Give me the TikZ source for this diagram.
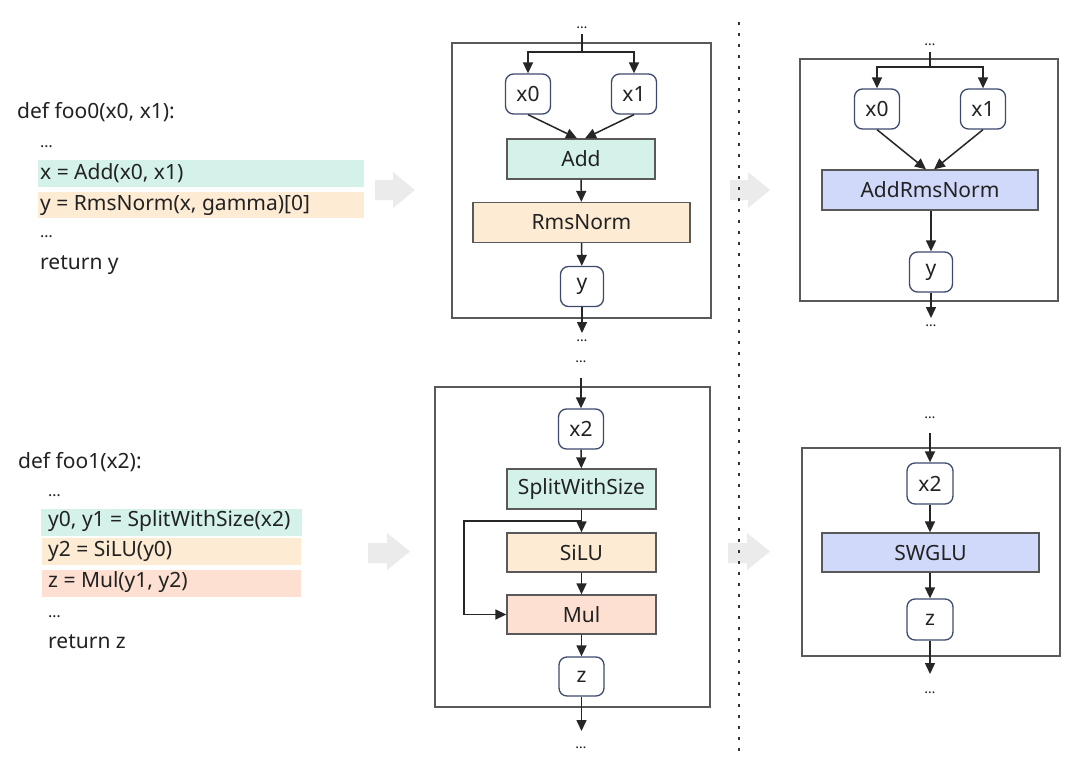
\documentclass[tikz,border=0pt]{standalone}
\usepackage{fontspec}
\setmainfont{Noto Sans}
\usetikzlibrary{arrows.meta}
\definecolor{txt}{HTML}{222222}
\definecolor{cyanf}{HTML}{D4F2EA}
\definecolor{orgf}{HTML}{FDEBD3}
\definecolor{salf}{HTML}{FDE0D2}
\definecolor{lavf}{HTML}{D0D9FA}
\definecolor{navy}{HTML}{3D4A6E}
\definecolor{frm}{HTML}{595959}
\definecolor{garr}{HTML}{EBEBEB}
\tikzset{
  lbl/.style={font=\fontsize{21}{25}\selectfont, text=txt, inner sep=0pt},
  codeline/.style={lbl, anchor=west},
  codedots/.style={font=\fontsize{16}{18}\selectfont, text=txt, inner sep=0pt, anchor=west},
  dotsnode/.style={font=\fontsize{14}{16}\selectfont, text=txt, inner sep=0pt},
  frame/.style={draw=frm, line width=1.4pt, inner sep=0pt},
  opbox/.style={draw=frm, line width=1.3pt, lbl, minimum height=40pt},
  varbox/.style={draw=navy, line width=1.3pt, rounded corners=8pt, fill=white, lbl, minimum width=45pt, minimum height=40pt},
  arr/.style={draw=black!85, line width=1.5pt, -{Triangle[length=11pt,width=10pt]}},
  ln/.style={draw=black!85, line width=1.5pt},
  hl/.style={inner sep=0pt, draw=none},
  blockarr/.style={fill=garr, draw=none},
}
\begin{document}
\begin{tikzpicture}[x=1pt,y=-1pt]
\useasboundingbox (0,0) rectangle (1080,766);
\fill[white] (0,0) rectangle (1080,766);

% ---------- code foo0 ----------
\node[hl, fill=cyanf, minimum width=326pt, minimum height=27pt] (hlA1) at (201,173) {};
\node[hl, fill=orgf, minimum width=326pt, minimum height=26pt] (hlA2) at (201,205) {};
\node[codeline] (cA0) at (17,112) {def foo0(x0, x1):};
\node[codedots] (cA1) at (40,147) {…};
\node[codeline] (cA2) at (40,173) {x = Add(x0, x1)};
\node[codeline] (cA3) at (40,205) {y = RmsNorm(x, gamma)[0]};
\node[codedots] (cA4) at (40,237) {…};
\node[codeline] (cA5) at (40,265) {return y};

% ---------- code foo1 ----------
\node[hl, fill=cyanf, minimum width=261pt, minimum height=27pt] (hlC1) at (171.5,522) {};
\node[hl, fill=orgf, minimum width=259pt, minimum height=27pt] (hlC2) at (171,551.5) {};
\node[hl, fill=salf, minimum width=259pt, minimum height=27pt] (hlC3) at (171,583) {};
\node[codeline] (cC0) at (18,462) {def foo1(x2):};
\node[codedots] (cC1) at (48,496) {…};
\node[codeline] (cC2) at (48,521) {y0, y1 = SplitWithSize(x2)};
\node[codeline] (cC3) at (48,551) {y2 = SiLU(y0)};
\node[codeline] (cC4) at (48,582) {z = Mul(y1, y2)};
\node[codedots] (cC5) at (48,617) {…};
\node[codeline] (cC6) at (48,642) {return z};

% ---------- gray block arrows ----------
\fill[blockarr] (375,180) -- (393,180) -- (393,172) -- (415,190) -- (393,208) -- (393,200) -- (375,200) -- cycle;
\fill[blockarr] (730,180) -- (748,180) -- (748,172) -- (770,190) -- (748,208) -- (748,200) -- (730,200) -- cycle;
\fill[blockarr] (368,543) -- (387,543) -- (387,533) -- (410,551.5) -- (387,570) -- (387,563) -- (368,563) -- cycle;
\fill[blockarr] (728,543) -- (747,543) -- (747,533) -- (770,551.5) -- (747,570) -- (747,563) -- (728,563) -- cycle;

% ---------- dotted separator ----------
\draw[black!80, line width=2pt, dash pattern=on 2.5pt off 8.5pt] (739,22) -- (739,752);

% ---------- graph A (Add + RmsNorm) ----------
\node[frame, minimum width=259pt, minimum height=275pt] (frA) at (581.5,180.5) {};
\node[dotsnode] (dA1) at (582,28) {…};
\coordinate (tA) at (582,34);
\coordinate (jA) at (582,52);
\node[varbox] (x0A) at (528,94) {x0};
\node[varbox] (x1A) at (634,94) {x1};
\node[opbox, fill=cyanf, minimum width=148pt] (addA) at (581,159) {Add};
\node[opbox, fill=orgf, minimum width=217pt] (rmsA) at (581.5,222.5) {RmsNorm};
\node[varbox, minimum width=43pt] (yA) at (582,286.5) {y};
\coordinate (eA) at (582,333);
\node[dotsnode] (dA2) at (582,341) {…};
\draw[ln] (tA) -- (jA);
\draw[arr] (jA) -| (x0A.north);
\draw[arr] (jA) -| (x1A.north);
\draw[arr] (x0A.south) -- ([xshift=-4pt]addA.north);
\draw[arr] (x1A.south) -- ([xshift=4pt]addA.north);
\draw[arr] (addA) -- (rmsA);
\draw[arr] (rmsA) -- (yA);
\draw[arr] (yA) -- (eA);

% ---------- graph B (AddRmsNorm) ----------
\node[frame, minimum width=258pt, minimum height=242pt] (frB) at (929,180) {};
\node[dotsnode] (dB1) at (930,45) {…};
\coordinate (tB) at (930,52);
\coordinate (jB) at (930,67);
\node[varbox] (x0B) at (877,109) {x0};
\node[varbox] (x1B) at (983,109) {x1};
\node[opbox, fill=lavf, minimum width=216pt] (armB) at (930,190) {AddRmsNorm};
\node[varbox, minimum width=43pt] (yB) at (931,272) {y};
\coordinate (eB) at (931,318);
\node[dotsnode] (dB2) at (931,326) {…};
\draw[ln] (tB) -- (jB);
\draw[arr] (jB) -| (x0B.north);
\draw[arr] (jB) -| (x1B.north);
\draw[arr] (x0B.south) -- ([xshift=-4pt]armB.north);
\draw[arr] (x1B.south) -- ([xshift=4pt]armB.north);
\draw[arr] (armB.south -| yB) -- (yB);
\draw[arr] (yB) -- (eB);

% ---------- graph C (Split, SiLU, Mul) ----------
\node[frame, minimum width=275pt, minimum height=320pt] (frC) at (572.5,547) {};
\node[dotsnode] (dC1) at (581,362) {…};
\coordinate (tC) at (581,378);
\node[varbox] (x2C) at (581,429) {x2};
\node[opbox, fill=cyanf, minimum width=149pt] (spC) at (581.5,489) {SplitWithSize};
\node[opbox, fill=orgf, minimum width=149pt, minimum height=39pt] (siC) at (581.5,552.5) {SiLU};
\node[opbox, fill=salf, minimum width=149pt, minimum height=39pt] (muC) at (581.5,614.5) {Mul};
\node[varbox, minimum height=39pt] (zC) at (581.5,676.5) {z};
\coordinate (bC) at (581.5,521);
\coordinate (lC) at (464,521);
\coordinate (eC) at (581.5,731);
\node[dotsnode] (dC2) at (581,748) {…};
\draw[arr] (tC) -- (x2C.north);
\draw[arr] (x2C) -- (spC);
\draw[ln] (spC.south) -- (bC);
\draw[arr] (bC) -- (siC.north);
\draw[arr] (bC) -- (lC) |- (muC.west);
\draw[arr] (siC) -- (muC);
\draw[arr] (muC) -- (zC);
\draw[arr] (zC) -- (eC);

% ---------- graph D (SWGLU) ----------
\node[frame, minimum width=258pt, minimum height=208pt] (frD) at (931,552) {};
\node[dotsnode] (dD1) at (930,418) {…};
\coordinate (tD) at (930,433);
\node[varbox, minimum width=46pt, minimum height=41pt] (x2D) at (930,483.5) {x2};
\node[opbox, fill=lavf, minimum width=217pt, minimum height=39pt] (swD) at (930.5,552.5) {SWGLU};
\node[varbox, minimum width=46pt, minimum height=41pt] (zD) at (930,619.5) {z};
\coordinate (eD) at (930,674);
\node[dotsnode] (dD2) at (930,693) {…};
\draw[arr] (tD) -- (x2D.north);
\draw[arr] (x2D) -- (swD.north -| x2D);
\draw[arr] (swD.south -| zD) -- (zD);
\draw[arr] (zD) -- (eD);
\end{tikzpicture}
\end{document}
